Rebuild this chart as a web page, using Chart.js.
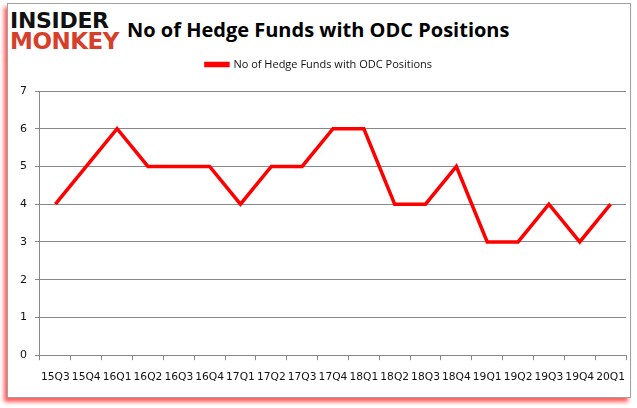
<!DOCTYPE html>
<html>
<head>
<meta charset="utf-8">
<script src="https://cdn.jsdelivr.net/npm/chart.js@4"></script>
<style>
  body { margin: 0; background: #fff; }
  #frame {
    position: absolute; left: 7px; top: 3px; width: 622px; height: 393px;
    border: 1px solid #a0a0a0; background: #fff;
    box-shadow: -3px 4px 4px rgba(255, 40, 40, 0.75);
  }
  #logo { position: absolute; left: 10px; top: 10px; font-family: "DejaVu Sans", sans-serif; font-weight: bold; line-height: 21px; }
  #logo .a { color: #111; font-size: 22px; letter-spacing: -0.3px; }
  #logo .b { color: #d6402b; font-size: 23px; letter-spacing: -0.5px; }
  #title { position: absolute; left: 127px; top: 16px; font-family: "Open Sans", sans-serif; font-weight: bold; font-size: 20px; color: #000; }
  #c { position: absolute; left: 0; top: 0; }
</style>
</head>
<body>
<div id="frame"></div>
<div id="logo"><div class="a">INSIDER</div><div class="b">MONKEY</div></div>
<div id="title">No of Hedge Funds with ODC Positions</div>
<canvas id="c" width="637" height="408"></canvas>
<script>
const quarters = ['15Q3', '15Q4', '16Q1', '16Q2', '16Q3', '16Q4', '17Q1', '17Q2', '17Q3', '17Q4',
  '18Q1', '18Q2', '18Q3', '18Q4', '19Q1', '19Q2', '19Q3', '19Q4', '20Q1'];
const funds = [4, 5, 6, 5, 5, 5, 4, 5, 5, 6, 6, 4, 4, 5, 3, 3, 4, 3, 4];
const seriesName = 'No of Hedge Funds with ODC Positions';

const ctx = document.getElementById('c');

// extra room between legend and plot
const legendGap = {
  id: 'legendGap',
  beforeInit(chart) {
    const fit = chart.legend.fit;
    chart.legend.fit = function () {
      fit.bind(chart.legend)();
      this.height += 11;
    };
  }
};

new Chart(ctx, {
  type: 'line',
  data: {
    labels: quarters,
    datasets: [{
      label: seriesName,
      data: funds,
      borderColor: '#ff0000',
      backgroundColor: '#ff0000',
      borderWidth: 3.5,
      pointRadius: 0,
      tension: 0
    }]
  },
  options: {
    responsive: false,
    animation: false,
    layout: { padding: { top: 49, left: 12, right: 11, bottom: 13 } },
    plugins: {
      legend: {
        labels: { boxWidth: 22, boxHeight: 2, color: '#111', font: { family: 'Open Sans', size: 11 } }
      },
      tooltip: { enabled: false }
    },
    scales: {
      x: {
        offset: true,
        grid: { offset: true, drawOnChartArea: false, color: '#888', tickLength: 5 },
        border: { color: '#888' },
        ticks: { color: '#111', font: { family: 'DejaVu Sans', size: 10.7 }, maxRotation: 0, autoSkip: false, padding: 11 }
      },
      y: {
        min: 0, max: 7,
        grid: { color: '#888', tickLength: 5 },
        border: { color: '#888' },
        ticks: { stepSize: 1, color: '#111', font: { family: 'DejaVu Sans', size: 11 }, padding: 8 }
      }
    }
  },
  plugins: [legendGap]
});
</script>
</body>
</html>
